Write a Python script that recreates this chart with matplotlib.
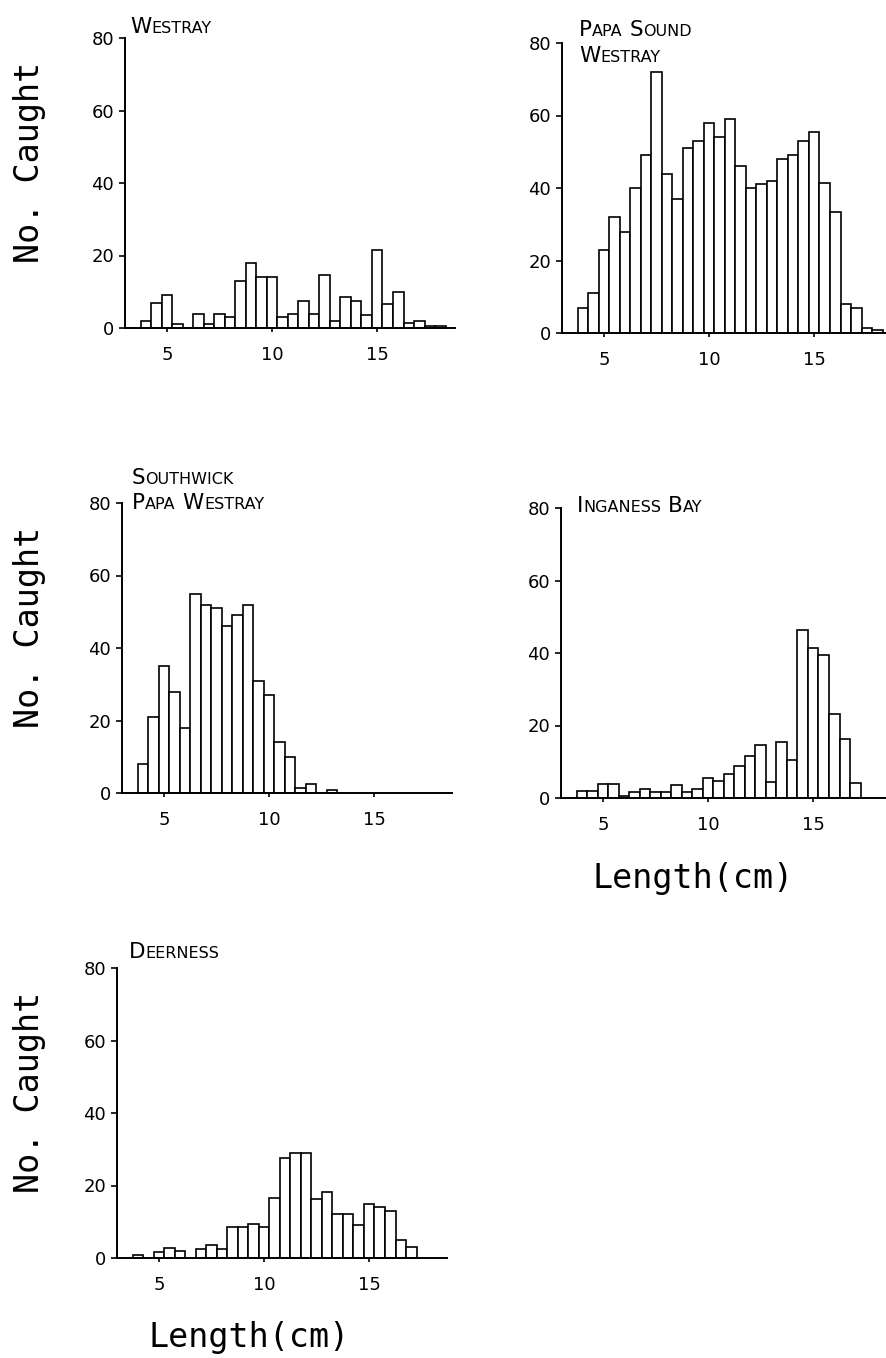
import matplotlib
matplotlib.use("Agg")
import matplotlib.pyplot as plt, numpy as np

W, H = 886, 1358

# bin centres (cm), 0.5 cm bins
lengths = [4.0, 4.5, 5.0, 5.5, 6.0, 6.5, 7.0, 7.5, 8.0, 8.5, 9.0, 9.5, 10.0, 10.5,
           11.0, 11.5, 12.0, 12.5, 13.0, 13.5, 14.0, 14.5, 15.0, 15.5, 16.0, 16.5,
           17.0, 17.5, 18.0]

westray = [2, 7, 9, 1, 0, 4, 1, 4, 3, 13, 18, 14, 14, 3, 4, 7.5, 4, 14.5, 2,
           8.5, 7.5, 3.5, 21.5, 6.5, 10, 1.5, 2, 0.5, 0.5]
papa_sound = [7, 11, 23, 32, 28, 40, 49, 72, 44, 37, 51, 53, 58, 54, 59, 46, 40,
              41, 42, 48, 49, 53, 55.5, 41.5, 33.5, 8, 7, 1.5, 0.7]
southwick = [8, 21, 35, 28, 18, 55, 52, 51, 46, 49, 52, 31, 27, 14, 10, 1.5, 2.5,
             0, 0.7, 0, 0, 0, 0, 0, 0, 0, 0, 0, 0]
inganess = [1.8, 1.8, 4, 4, 0.6, 1.6, 2.6, 1.6, 1.6, 3.7, 1.6, 2.5, 5.5, 4.6, 6.6,
            8.9, 11.7, 14.7, 4.4, 15.4, 10.5, 46.4, 41.5, 39.4, 23.3, 16.3, 4.1, 0, 0]
deerness = [0.7, 0, 1.7, 2.7, 1.8, 0, 2.6, 3.5, 2.5, 8.5, 8.5, 9.5, 8.5, 16.5, 27.5,
            29, 29, 16.3, 18.2, 12.2, 12.2, 9.1, 15, 14, 13, 5, 3, 0, 0]

series = [westray, papa_sound, southwick, inganess, deerness]
titles = [["Westray"], ["Papa Sound", "Westray"], ["Southwick", "Papa Westray"],
          ["Inganess Bay"], ["Deerness"]]
yticks = [0, 20, 40, 60, 80]
xticks = [5, 10, 15]

# layout in pixels: (axis left x, baseline y), title (x, baselines)
axpos = [(125, 328), (562, 333), (122, 793), (561, 798), (117, 1258)]
tpos = [(130, [33]), (579, [36, 62]), (132, [484, 509]), (577, [512]), (129, [958])]
ylab_y = [162, None, 627, None, 1092]
xlab = [None, None, None, (693, 888), (249, 1347)]

fig = plt.figure(figsize=(W / 100, H / 100), dpi=100)
r = fig.canvas.get_renderer()


def fx(x):
    return x / W


def fy(y):
    return 1 - y / H


def caps_title(x, baselines, lines):
    for yb, line in zip(baselines, lines):
        cx = x
        for word in line.split(" "):
            for j, part in enumerate([word[0], word[1:].upper()]):
                t = fig.text(fx(cx), fy(yb), part, fontsize=15.5 if j == 0 else 11.5,
                             family="DejaVu Sans", va="baseline", ha="left")
                cx += t.get_window_extent(r).width
            cx += 7


for i, vals in enumerate(series):
    x0, y0 = axpos[i]
    ax = fig.add_axes([fx(x0), fy(y0), 330 / W, 290 / H])
    v = np.array(vals)
    L = np.array(lengths)
    m = v > 0
    ax.bar(L[m], v[m], width=0.5, color="white", edgecolor="black", lw=1.2, zorder=2)
    ax.set_xlim(3, 18.7)
    ax.set_ylim(0, 80)
    ax.set_xticks(xticks)
    ax.set_yticks(yticks)
    for s in ["top", "right"]:
        ax.spines[s].set_visible(False)
    for s in ["left", "bottom"]:
        ax.spines[s].set_linewidth(1.4)
    ax.patch.set_alpha(0)
    ax.tick_params(axis="x", length=3, width=1.2, pad=10, labelsize=13)
    ax.tick_params(axis="y", length=4, width=1.2, pad=4, labelsize=13)
    caps_title(tpos[i][0], tpos[i][1], titles[i])
    if ylab_y[i] is not None:
        fig.text(fx(30), fy(ylab_y[i]), "No. Caught", rotation=90, ha="center",
                 va="center", fontsize=24, family="DejaVu Sans Mono")
    if xlab[i] is not None:
        fig.text(fx(xlab[i][0]), fy(xlab[i][1]), "Length(cm)", ha="center",
                 va="baseline", fontsize=24, family="DejaVu Sans Mono")

fig.savefig("out.png", dpi=100)
